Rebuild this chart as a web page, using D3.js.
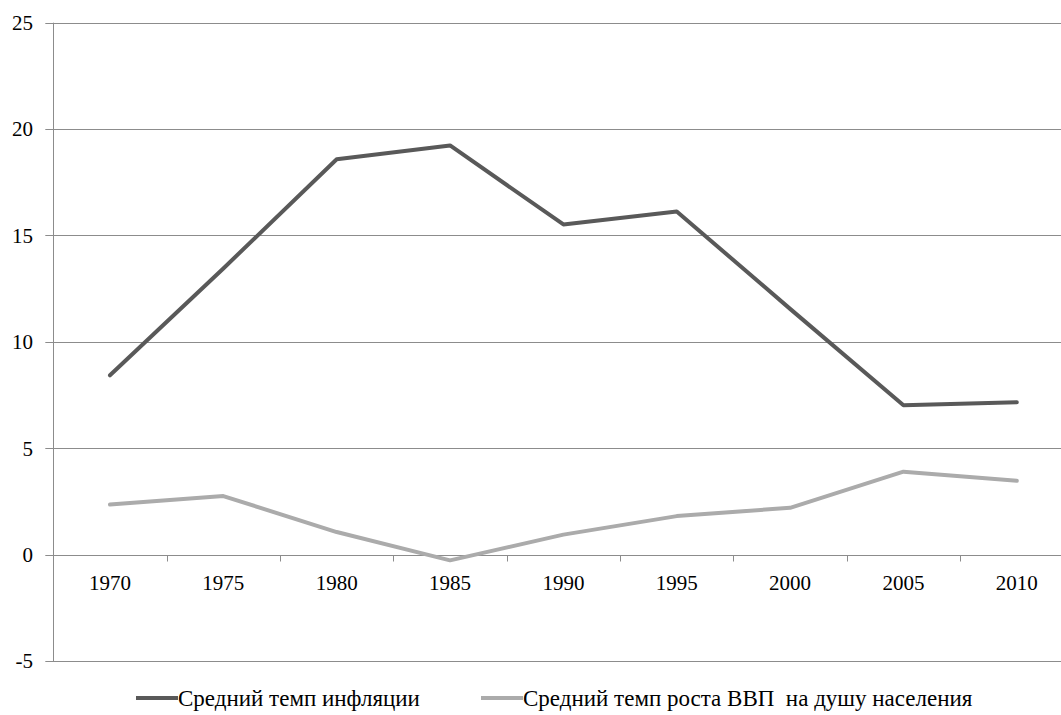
<!DOCTYPE html>
<html>
<head>
<meta charset="utf-8">
<script src="https://cdn.jsdelivr.net/npm/d3@7"></script>
</head>
<body style="margin:0">
<svg id="chart" width="1061" height="715" font-family="Liberation Serif" style="font-family:'Liberation Serif'"></svg>
<script>
// Years on the category axis
const years = ["1970", "1975", "1980", "1985", "1990", "1995", "2000", "2005", "2010"];
// Average inflation rate, %
const inflation = [8.43, 13.45, 18.58, 19.23, 15.52, 16.13, 11.55, 7.02, 7.16];
// Average GDP per capita growth rate, %
const gdpGrowth = [2.35, 2.75, 1.06, -0.27, 0.94, 1.81, 2.2, 3.9, 3.47];
// Value axis ticks
const yTicks = [-5, 0, 5, 10, 15, 20, 25];
// Series names for the legend
const seriesNames = ["Средний темп инфляции", "Средний темп роста ВВП  на душу населения"];

const svg = d3.select("#chart");
const plotLeft = 53.3, plotRight = 1073.5, plotTop = 22.7, plotBottom = 661;

const x = d3.scaleBand().domain(years).range([plotLeft, plotRight]).padding(0);
const y = d3.scaleLinear().domain([-5, 25]).range([plotBottom, plotTop]);

const gridColor = "#8c8c8c";

// Keep everything inside the visible frame
svg.append("defs").append("clipPath").attr("id", "frame")
  .append("rect").attr("width", 1061).attr("height", 715);
const root = svg.append("g").attr("clip-path", "url(#frame)");

// Horizontal gridlines with short outward ticks
root.append("g")
  .selectAll("line")
  .data(yTicks)
  .join("line")
  .attr("x1", plotLeft - 8)
  .attr("x2", plotRight)
  .attr("y1", d => Math.round(y(d)) + 0.5)
  .attr("y2", d => Math.round(y(d)) + 0.5)
  .attr("stroke", gridColor)
  .attr("stroke-width", 1);

// Value axis line
root.append("line")
  .attr("x1", Math.round(plotLeft) + 0.5).attr("x2", Math.round(plotLeft) + 0.5)
  .attr("y1", plotTop).attr("y2", plotBottom)
  .attr("stroke", gridColor);

// Value axis labels
root.append("g")
  .selectAll("text")
  .data(yTicks)
  .join("text")
  .attr("x", 33)
  .attr("y", d => y(d))
  .attr("dy", "0.35em")
  .attr("text-anchor", "end")
  .style("font-family", "'Liberation Serif'")
  .style("font-size", "21px")
  .attr("fill", "#000")
  .text(d => d);

// Category axis drawn along zero
const zeroY = Math.round(y(0)) + 0.5;
const xAxis = d3.axisBottom(x).tickSize(0).tickPadding(0);
const xg = root.append("g").attr("transform", `translate(0,${zeroY})`);
xg.call(xAxis);
xg.attr("font-family", "Liberation Serif").attr("font-size", 21);
xg.select(".domain").remove();
xg.selectAll("text")
  .attr("y", 34)
  .attr("dy", 0)
  .style("font-family", "'Liberation Serif'")
  .style("font-size", "21px")
  .attr("fill", "#000");

// Category boundary tick marks
const bounds = years.slice(1).map(d => x(d));
root.append("g")
  .selectAll("line")
  .data(bounds)
  .join("line")
  .attr("x1", d => Math.round(d) + 0.5)
  .attr("x2", d => Math.round(d) + 0.5)
  .attr("y1", zeroY)
  .attr("y2", zeroY + 6)
  .attr("stroke", gridColor);

const cx = d => x(d) + x.bandwidth() / 2;
const line = d3.line().x(d => cx(d.year)).y(d => y(d.value));

const series = [
  { name: seriesNames[0], values: inflation, color: "#595959" },
  { name: seriesNames[1], values: gdpGrowth, color: "#ababab" }
];

// Series lines
root.append("g")
  .selectAll("path")
  .data(series)
  .join("path")
  .attr("d", s => line(s.values.map((v, i) => ({ year: years[i], value: v }))))
  .attr("fill", "none")
  .attr("stroke", s => s.color)
  .attr("stroke-width", 4)
  .attr("stroke-linejoin", "round")
  .attr("stroke-linecap", "round");

// Legend
const legendX = [136, 481];
const legend = root.append("g")
  .selectAll("g")
  .data(series)
  .join("g")
  .attr("transform", (d, i) => `translate(${legendX[i]},698)`);
legend.append("line")
  .attr("x1", 0).attr("x2", 42)
  .attr("y1", 0).attr("y2", 0)
  .attr("stroke", d => d.color)
  .attr("stroke-width", 4);
legend.append("text")
  .attr("x", 42)
  .attr("dy", "0.35em")
  .style("font-family", "'Liberation Serif'")
  .style("font-size", "23px")
  .style("white-space", "pre")
  .attr("fill", "#000")
  .text(d => d.name);
</script>
</body>
</html>
